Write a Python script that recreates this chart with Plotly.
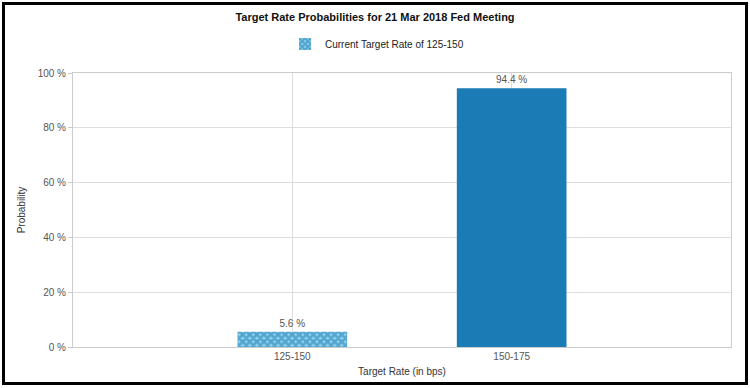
import plotly.graph_objects as go

categories = ["125-150", "150-175"]
values = [5.6, 94.4]
labels = ["5.6 %", "94.4 %"]
legend_name = "Current Target Rate of 125-150"
title = "Target Rate Probabilities for 21 Mar 2018 Fed Meeting"
y_ticks = [0, 20, 40, 60, 80, 100]
y_tick_text = ["0 %", "20 %", "40 %", "60 %", "80 %", "100 %"]

W, H = 750, 388
L, R, T, B = 73, 19, 73, 41
pw, ph = W - L - R, H - T - B

blue = "#1a7bb5"
gray = "#555555"

fig = go.Figure()
fig.add_trace(go.Bar(
    x=[categories[0]], y=[values[0]], text=[labels[0]], name=legend_name,
    width=0.5, textposition="outside", cliponaxis=False,
    textfont=dict(size=10, color=gray),
    marker=dict(color="#2a8cc4", line=dict(width=0),
                pattern=dict(shape="x", fgcolor="#1776b0", bgcolor="#8fd3ec", size=5, solidity=0.75)),
    showlegend=True,
))
fig.add_trace(go.Bar(
    x=[categories[1]], y=[values[1]], text=[labels[1]], name=categories[1],
    width=0.5, textposition="outside", cliponaxis=False,
    textfont=dict(size=10, color=gray),
    marker=dict(color=blue, line=dict(width=0)),
    showlegend=False,
))

def px_x(p):
    return (p - L) / pw

def px_y(p):
    return (H - B - p) / ph

fig.add_shape(type="rect", xref="paper", yref="paper",
              x0=px_x(3.5), x1=px_x(746.5), y0=px_y(383.5), y1=px_y(3.5),
              line=dict(color="black", width=3), layer="above")

fig.update_layout(
    width=W, height=H,
    margin=dict(l=L, r=R, t=T, b=B),
    paper_bgcolor="white", plot_bgcolor="white",
    font=dict(family="Liberation Sans, Arial, sans-serif", size=10, color=gray),
    title=dict(text="<b>" + title + "</b>", x=0.5, xanchor="center", y=1 - 17 / H, yanchor="middle",
               font=dict(size=11, color="#111111")),
    legend=dict(orientation="h", x=px_x(377), xanchor="center", y=px_y(44), yanchor="middle",
                font=dict(size=10, color="#222222"), itemwidth=30),
    barmode="overlay",
    xaxis=dict(type="category", categoryorder="array", categoryarray=categories,
               range=[-1, 2], showgrid=True, gridcolor="#dddddd", gridwidth=1,
               showline=True, linecolor="#cccccc", mirror=True,
               ticks="", tickfont=dict(size=10, color=gray),
               title=dict(text="Target Rate (in bps)", font=dict(size=10, color="#333333"), standoff=6)),
    yaxis=dict(range=[0, 100], tickvals=y_ticks, ticktext=y_tick_text,
               showgrid=True, gridcolor="#dddddd", gridwidth=1,
               showline=True, linecolor="#cccccc", mirror=True,
               ticks="outside", ticklen=4, tickcolor="#cccccc",
               zeroline=False, tickfont=dict(size=10, color=gray),
               title=dict(text="Probability", font=dict(size=10, color="#333333"), standoff=10)),
)

fig.write_html("out.html", config={"displayModeBar": False},
               post_script="document.body.style.margin='0';")
